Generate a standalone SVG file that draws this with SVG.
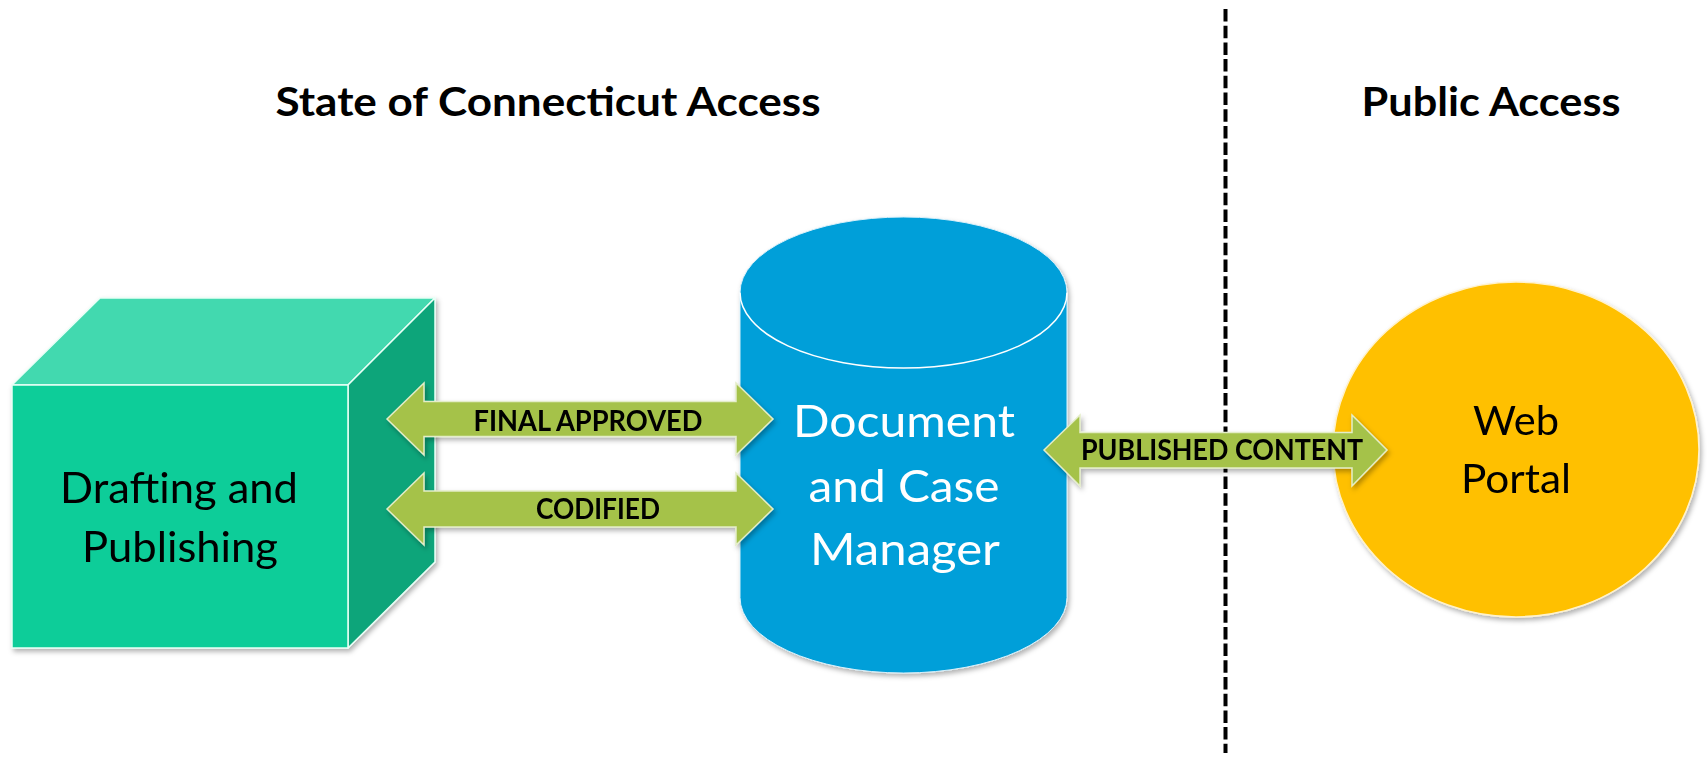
<svg xmlns="http://www.w3.org/2000/svg" width="1708" height="757" viewBox="0 0 1708 757">
  <defs>
    <filter id="shadow" x="-10%" y="-10%" width="125%" height="130%">
      <feDropShadow dx="2" dy="3" stdDeviation="2.5" flood-color="#000000" flood-opacity="0.3"/>
    </filter>
  </defs>
  <style>
    .title { font-family: Lato, "Open Sans", "Liberation Sans", sans-serif; font-weight: bold; font-size: 40px; fill: #000000; }
    .label { font-family: Lato, "Open Sans", "Liberation Sans", sans-serif; font-size: 42px; }
    .arrowtxt { font-family: Lato, "Open Sans", "Liberation Sans", sans-serif; font-weight: bold; font-size: 29px; fill: #000000; }
    .arrow { fill: #A5C24A; stroke: #E4EDC8; stroke-width: 1.5; }
    .edge { stroke: #E8FFF6; stroke-width: 1.5; stroke-linejoin: round; }
  </style>

  <rect width="1708" height="757" fill="#FFFFFF"/>

  <g id="titles">
    <text class="title" x="548" y="116" text-anchor="middle" textLength="545" lengthAdjust="spacingAndGlyphs">State of Connecticut Access</text>
    <text class="title" x="1491" y="116" text-anchor="middle" textLength="259" lengthAdjust="spacingAndGlyphs">Public Access</text>
  </g>

  <g id="divider">
    <line x1="1225.5" y1="9" x2="1225.5" y2="753" stroke="#000000" stroke-width="4" stroke-dasharray="12.5 4.2"/>
  </g>

  <g id="drafting" filter="url(#shadow)">
    <polygon class="edge" points="12,385 100,298 435,298 348,385" fill="#43D9AF"/>
    <polygon class="edge" points="348,385 435,298 435,562 348,648" fill="#0FA57A"/>
    <rect class="edge" x="12" y="385" width="336" height="263" fill="#11CD99"/>
    <text class="label" fill="#000000" x="179" y="503" text-anchor="middle" textLength="238" lengthAdjust="spacingAndGlyphs">Drafting and</text>
    <text class="label" fill="#000000" x="180" y="562" text-anchor="middle" textLength="196" lengthAdjust="spacingAndGlyphs">Publishing</text>
  </g>

  <g id="manager" filter="url(#shadow)">
    <path d="M740,292.5 L740,597.5 A163.5,75.5 0 0 0 1067,597.5 L1067,292.5 A163.5,75.5 0 0 0 740,292.5 Z" fill="#039FD9" stroke="#D8F0FA" stroke-width="1"/>
    <path d="M740,292.5 A163.5,75.5 0 0 0 1067,292.5" fill="none" stroke="#FFFFFF" stroke-width="1.5"/>
    <text class="label" fill="#FFFFFF" style="font-size:45px" x="904" y="437" text-anchor="middle" textLength="222" lengthAdjust="spacingAndGlyphs">Document</text>
    <text class="label" fill="#FFFFFF" style="font-size:45px" x="904" y="502" text-anchor="middle" textLength="191" lengthAdjust="spacingAndGlyphs">and Case</text>
    <text class="label" fill="#FFFFFF" style="font-size:45px" x="905" y="565" text-anchor="middle" textLength="190" lengthAdjust="spacingAndGlyphs">Manager</text>
  </g>

  <g id="portal" filter="url(#shadow)">
    <ellipse cx="1516" cy="449.5" rx="183" ry="167.5" fill="#FFC000" stroke="#FFF2CC" stroke-width="1.5"/>
    <text class="label" fill="#000000" style="font-size:40px" x="1516" y="435" text-anchor="middle" textLength="86" lengthAdjust="spacingAndGlyphs">Web</text>
    <text class="label" fill="#000000" style="font-size:40px" x="1516" y="493" text-anchor="middle" textLength="110" lengthAdjust="spacingAndGlyphs">Portal</text>
  </g>

  <g id="connectors" filter="url(#shadow)">
    <g id="final-approved">
      <polygon class="arrow" points="387,419 424,383 424,401.5 736,401.5 736,383 773,419 736,455 736,436.5 424,436.5 424,455"/>
      <text class="arrowtxt" x="588" y="431" text-anchor="middle" textLength="229" lengthAdjust="spacingAndGlyphs">FINAL APPROVED</text>
    </g>
    <g id="codified">
      <polygon class="arrow" points="387,509 424,473 424,491 736,491 736,473 773,509 736,545 736,527 424,527 424,545"/>
      <text class="arrowtxt" x="598" y="519" text-anchor="middle" textLength="124" lengthAdjust="spacingAndGlyphs">CODIFIED</text>
    </g>
    <g id="published-content">
      <polygon class="arrow" points="1044,450 1080,415 1080,432.5 1352,432.5 1352,415 1387,450 1352,486 1352,468 1080,468 1080,486"/>
      <text class="arrowtxt" x="1222" y="460" text-anchor="middle" textLength="282" lengthAdjust="spacingAndGlyphs">PUBLISHED CONTENT</text>
    </g>
  </g>
</svg>
